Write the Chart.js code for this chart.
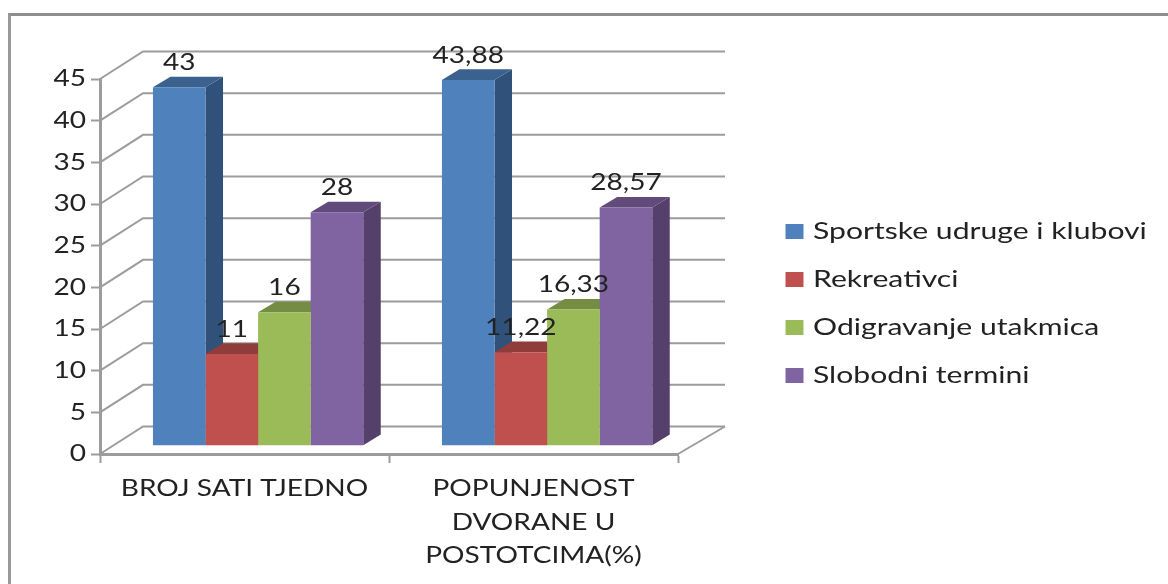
<!DOCTYPE html>
<html><head><meta charset="utf-8">
<style>
html,body{margin:0;padding:0;background:#fff;overflow:hidden}
#wrap{position:relative;width:1168px;height:584px}
#frame{position:absolute;left:8px;top:13px;right:0;bottom:0;border-top:3px solid #8f8f8f;border-left:3px solid #999}
canvas{position:absolute;left:0;top:0;filter:blur(0.6px)}
</style>
<script src="https://cdn.jsdelivr.net/npm/chart.js@4/dist/chart.umd.js"></script>
</head><body>
<div id="wrap"><canvas id="c" width="1168" height="584"></canvas><div id="frame"></div></div>
<script>
const categories = [['BROJ SATI TJEDNO'], ['POPUNJENOST', 'DVORANE U', 'POSTOTCIMA(%)']];
const seriesNames = ['Sportske udruge i klubovi', 'Rekreativci', 'Odigravanje utakmica', 'Slobodni termini'];
const sportske = [43, 43.88];
const rekreativci = [11, 11.22];
const odigravanje = [16, 16.33];
const slobodni = [28, 28.57];
const frontColors = ['#4f81bd', '#c0504d', '#9bbb59', '#8064a2'];
const sideColors = ['#30527a', '#8a3836', '#6f8a40', '#54406a'];
const topColors = ['#3b618e', '#903c3a', '#748d43', '#604b7a'];

const FONT = 'Lato';
const TEXT_STRETCH = 1.22;
const LEGEND_STRETCH = 1.31;
const GRID = '#9c9c9c';
const shift = {x: 13.6, y: -8.3};
const depth = {x: 17.5, y: 10.7};
const wall = {left: 43, right: 47, up: 27.5};
let textStretch = TEXT_STRETCH;
let textNudge = 0;

function poly(ctx, pts, color) {
  ctx.fillStyle = color;
  ctx.beginPath();
  pts.forEach((p, i) => i ? ctx.lineTo(p[0], p[1]) : ctx.moveTo(p[0], p[1]));
  ctx.closePath();
  ctx.fill();
}

const threeD = {
  id: 'threeD',
  beforeLayout(chart) {
    const l = chart.legend;
    if (!l._patched) {
      const fit = l.fit, draw = l.draw;
      l.fit = function () { fit.call(this); this.width = 1168 - 678; };
      l.draw = function () {
        textStretch = LEGEND_STRETCH;
        textNudge = -2;
        draw.call(this);
        textStretch = TEXT_STRETCH;
        textNudge = 0;
      };
      l._patched = true;
    }
  },
  afterLayout(chart) {
    const l = chart.legend;
    const pad = l.options.labels.padding;
    l.left = 785.5 - pad;
    l.right = 1168;
    l.top = 220 - pad;
    l.bottom = 584;
  },
  beforeDatasetsDraw(chart) {
    const {ctx, scales: {y}, chartArea: a} = chart;
    ctx.save();
    ctx.strokeStyle = GRID;
    ctx.lineWidth = 2;
    y.ticks.forEach(t => {
      const py = y.getPixelForValue(t.value);
      ctx.beginPath();
      ctx.moveTo(a.left, py);
      ctx.lineTo(a.left + wall.left, py - wall.up);
      ctx.lineTo(a.right + wall.right, py - wall.up);
      ctx.stroke();
    });
    const py0 = y.getPixelForValue(0);
    ctx.beginPath();
    ctx.moveTo(a.right, py0);
    ctx.lineTo(a.right + wall.right, py0 - wall.up);
    ctx.stroke();
    ctx.restore();

    ctx.save();
    ctx.translate(shift.x, shift.y);
    chart.data.datasets.forEach((ds, i) => {
      chart.getDatasetMeta(i).data.forEach(bar => {
        const b = bar.getProps(['x', 'y', 'base', 'width'], true);
        const r = b.x + b.width / 2, l = b.x - b.width / 2;
        poly(ctx, [[r, b.y], [r + depth.x, b.y - depth.y], [r + depth.x, b.base - depth.y], [r, b.base]], sideColors[i]);
        poly(ctx, [[l, b.y], [l + depth.x, b.y - depth.y], [r + depth.x, b.y - depth.y], [r, b.y]], topColors[i]);
      });
    });
  },
  afterDatasetsDraw(chart) {
    const {ctx} = chart;
    ctx.save();
    ctx.font = '23px ' + FONT;
    ctx.fillStyle = '#222';
    ctx.textAlign = 'center';
    ctx.textBaseline = 'middle';
    chart.data.datasets.forEach((ds, i) => {
      chart.getDatasetMeta(i).data.forEach((bar, j) => {
        const b = bar.getProps(['x', 'y'], true);
        ctx.fillText(String(ds.data[j]).replace('.', ','), b.x, b.y - 24.8);
      });
    });
    ctx.restore();
    ctx.restore();
  }
};

const seriesValues = [sportske, rekreativci, odigravanje, slobodni];

const canvas = document.getElementById('c');
const ctx2d = canvas.getContext('2d');
const plainFillText = ctx2d.fillText;
ctx2d.fillText = function (text, x, y, maxWidth) {
  const px = x + textNudge;
  this.save();
  this.transform(textStretch, 0, 0, 1, px * (1 - textStretch), 0);
  if (maxWidth === undefined) plainFillText.call(this, text, px, y);
  else plainFillText.call(this, text, px, y, maxWidth);
  this.restore();
};

new Chart(canvas, {
  type: 'bar',
  data: {
    labels: categories,
    datasets: seriesNames.map((name, i) => ({
      label: name,
      data: seriesValues[i],
      backgroundColor: frontColors[i],
      borderWidth: 0,
      categoryPercentage: 0.7277,
      barPercentage: 1,
      clip: false
    }))
  },
  options: {
    responsive: false,
    animation: false,
    layout: {autoPadding: false, padding: {top: 79, left: 0, right: 0, bottom: 0}},
    plugins: {
      title: {display: false},
      tooltip: {enabled: false},
      legend: {
        position: 'right',
        align: 'start',
        labels: {
          boxWidth: 18,
          boxHeight: 15,
          padding: 25,
          color: '#222',
          font: {family: FONT, size: 23}
        }
      }
    },
    scales: {
      x: {
        type: 'category',
        offset: true,
        afterFit(s) { s.height = 584 - 454; },
        grid: {offset: true, drawOnChartArea: false, drawTicks: true, tickLength: 9, tickColor: GRID, tickWidth: 2},
        border: {display: true, color: GRID, width: 3},
        ticks: {color: '#222', padding: 9, maxRotation: 0, autoSkip: false, font: {family: FONT, size: 23, lineHeight: 1.46}}
      },
      y: {
        min: 0,
        max: 45,
        afterFit(s) { s.width = 100; },
        grid: {drawOnChartArea: false, drawTicks: true, tickLength: 9, tickColor: GRID, tickWidth: 2},
        border: {display: true, color: GRID, width: 3},
        ticks: {stepSize: 5, color: '#222', padding: 5, font: {family: FONT, size: 23}}
      }
    }
  },
  plugins: [threeD]
});
</script>
</body></html>
